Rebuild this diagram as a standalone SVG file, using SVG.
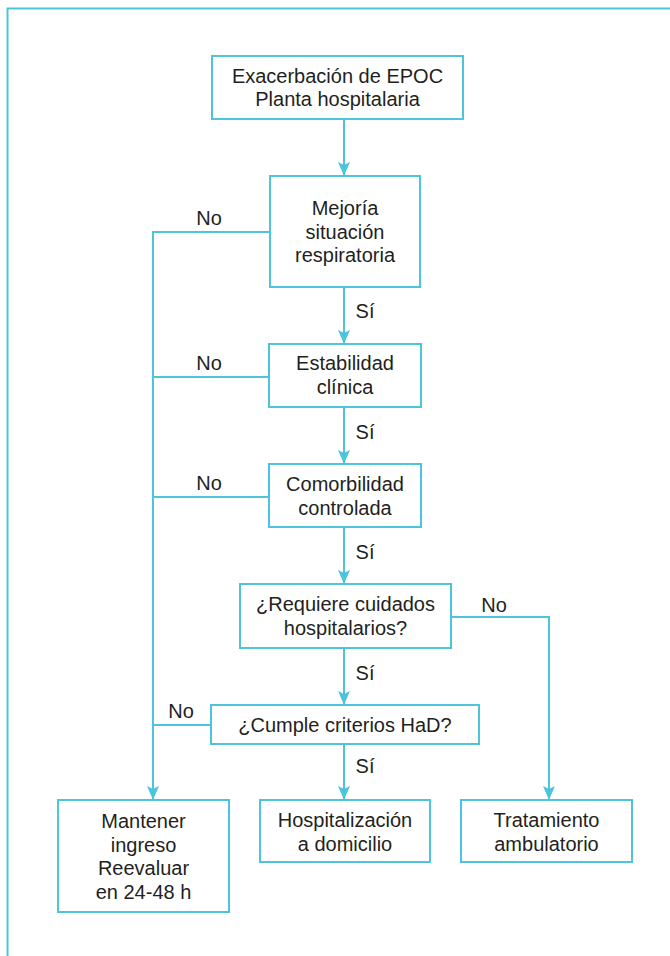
<svg xmlns="http://www.w3.org/2000/svg" width="670" height="956" viewBox="0 0 670 956">
<defs>
<style>
.box{fill:#ffffff;stroke:#4ec3dc;stroke-width:2}
.ln{fill:none;stroke:#4ec3dc;stroke-width:2}
.t{font-family:"Liberation Sans",Arial,sans-serif;font-size:20px;fill:#231f20;text-anchor:middle}
</style>
<marker id="ah" markerUnits="userSpaceOnUse" markerWidth="12" markerHeight="14" viewBox="0 0 12 14" refX="6" refY="13" orient="auto-start-reverse">
<path d="M0,0 L6,3 L12,0 L6,14 Z" fill="#4ec3dc" transform="rotate(0)"/>
</marker>
<marker id="ad" markerUnits="userSpaceOnUse" markerWidth="12" markerHeight="14" viewBox="0 0 12 14" refX="6" refY="13" orient="0">
<path d="M0,0 L6,3 L12,0 L6,14 Z" fill="#4ec3dc"/>
</marker>
</defs>
<rect width="670" height="956" fill="#ffffff"/>
<path class="ln" d="M7.5,956 V8.5 H670"/>
<g id="connectors">
<path class="ln" d="M344,119 V175" marker-end="url(#ad)"/>
<path class="ln" d="M344,287 V343" marker-end="url(#ad)"/>
<path class="ln" d="M344,407 V463" marker-end="url(#ad)"/>
<path class="ln" d="M344,527 V583" marker-end="url(#ad)"/>
<path class="ln" d="M344,648 V704" marker-end="url(#ad)"/>
<path class="ln" d="M344,744 V799" marker-end="url(#ad)"/>
<path class="ln" d="M270,232 H153 V799" marker-end="url(#ad)"/>
<path class="ln" d="M269,377 H153"/>
<path class="ln" d="M269,497 H153"/>
<path class="ln" d="M211,725 H153"/>
<path class="ln" d="M451,617 H549 V799" marker-end="url(#ad)"/>
<text class="t" x="209" y="225">No</text>
<text class="t" x="209" y="370">No</text>
<text class="t" x="209" y="490">No</text>
<text class="t" x="181" y="718">No</text>
<text class="t" x="494" y="612">No</text>
<text class="t" x="365" y="318">Sí</text>
<text class="t" x="365" y="439">Sí</text>
<text class="t" x="365" y="559">Sí</text>
<text class="t" x="365" y="680">Sí</text>
<text class="t" x="365" y="773">Sí</text>
</g>
<g id="n1">
<rect class="box" x="212" y="56" width="251" height="63"/>
<text class="t" x="337.5" y="83">Exacerbación de EPOC</text>
<text class="t" x="337.5" y="106">Planta hospitalaria</text>
</g>
<g id="n2">
<rect class="box" x="270" y="176" width="150" height="111"/>
<text class="t" x="345" y="215">Mejoría</text>
<text class="t" x="345" y="238.5">situación</text>
<text class="t" x="345" y="262">respiratoria</text>
</g>
<g id="n3">
<rect class="box" x="269" y="344" width="152" height="63"/>
<text class="t" x="345" y="370">Estabilidad</text>
<text class="t" x="345" y="394">clínica</text>
</g>
<g id="n4">
<rect class="box" x="269" y="464" width="152" height="63"/>
<text class="t" x="345" y="491">Comorbilidad</text>
<text class="t" x="345" y="514.5">controlada</text>
</g>
<g id="n5">
<rect class="box" x="240" y="584" width="211" height="64"/>
<text class="t" x="345.5" y="611">¿Requiere cuidados</text>
<text class="t" x="345.5" y="634.5">hospitalarios?</text>
</g>
<g id="n6">
<rect class="box" x="211" y="705" width="268" height="39"/>
<text class="t" x="345" y="732">¿Cumple criterios HaD?</text>
</g>
<g id="n7">
<rect class="box" x="58" y="800" width="171" height="112"/>
<text class="t" x="143.5" y="828">Mantener</text>
<text class="t" x="143.5" y="851.5">ingreso</text>
<text class="t" x="143.5" y="875">Reevaluar</text>
<text class="t" x="143.5" y="898.5">en 24-48 h</text>
</g>
<g id="n8">
<rect class="box" x="260" y="800" width="170" height="62"/>
<text class="t" x="345" y="827">Hospitalización</text>
<text class="t" x="345" y="851">a domicilio</text>
</g>
<g id="n9">
<rect class="box" x="461" y="800" width="171" height="62"/>
<text class="t" x="546.5" y="827">Tratamiento</text>
<text class="t" x="546.5" y="851">ambulatorio</text>
</g>
</svg>
